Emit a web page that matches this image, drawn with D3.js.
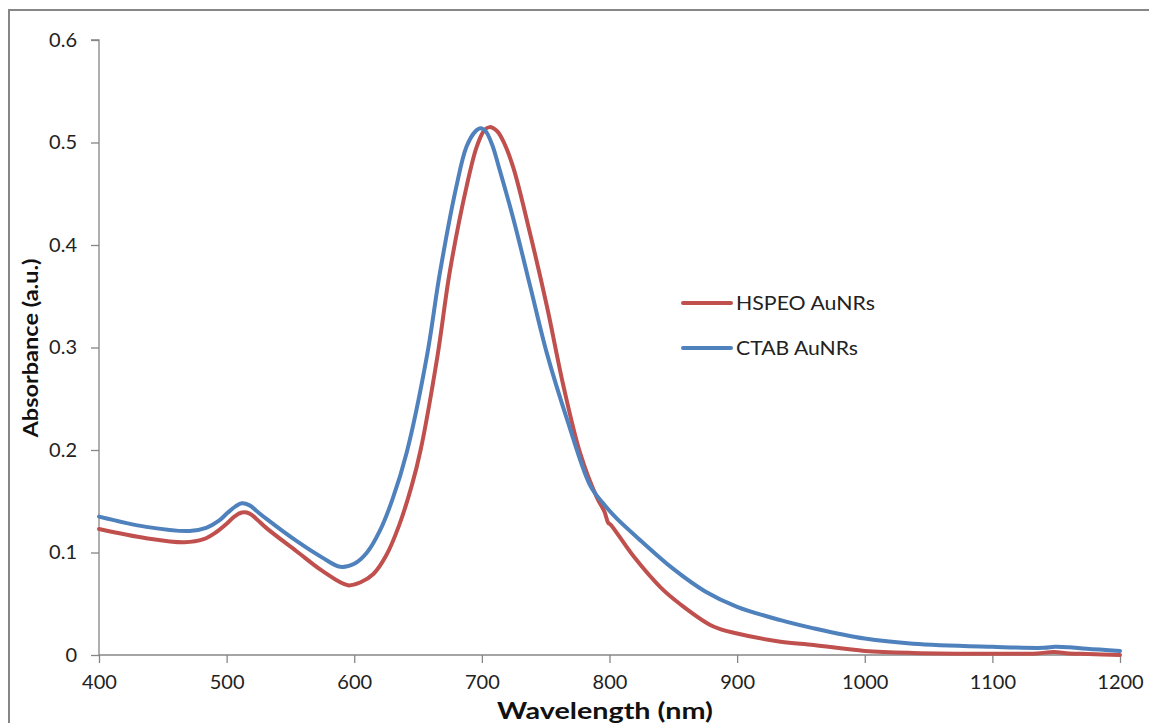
<!DOCTYPE html>
<html>
<head>
<meta charset="utf-8">
<script src="https://cdn.jsdelivr.net/npm/d3@7"></script>
<style>
  html, body { margin: 0; padding: 0; background: #fff; }
  svg { display: block; }
</style>
</head>
<body>
<svg id="chart" width="1149" height="723"></svg>
<script>
// ---- Data ----
const hspeoWavelength = [400, 437, 467, 482, 492, 500, 506, 512, 518, 524, 531, 555, 575, 595, 605, 615, 625, 635, 645, 652, 665, 675, 688, 696, 702, 706, 712, 718, 725, 738, 751, 764, 777, 790, 796, 799, 801, 819, 840, 855, 881, 900, 934, 960, 1000, 1038, 1100, 1135, 1148, 1160, 1175, 1200];
const hspeoAbs =        [0.123, 0.114, 0.110, 0.113, 0.120, 0.128, 0.135, 0.139, 0.138, 0.132, 0.124, 0.101, 0.082, 0.068, 0.071, 0.079, 0.097, 0.126, 0.165, 0.200, 0.290, 0.375, 0.457, 0.496, 0.512, 0.515, 0.511, 0.498, 0.474, 0.410, 0.340, 0.262, 0.197, 0.154, 0.140, 0.129, 0.127, 0.096, 0.066, 0.050, 0.028, 0.021, 0.013, 0.0098, 0.004, 0.002, 0.0012, 0.0015, 0.003, 0.0015, 0.001, 0.000];

const ctabWavelength = [400, 437, 471, 484, 494, 501, 507, 512, 518, 524, 531, 555, 575, 589, 600, 610, 620, 630, 641, 657, 667, 680, 688, 695, 699, 703, 708, 714, 725, 738, 751, 767, 785, 795, 805, 825, 850, 875, 900, 934, 960, 1000, 1038, 1100, 1140, 1149, 1160, 1174, 1200];
const ctabAbs =        [0.135, 0.125, 0.121, 0.124, 0.131, 0.139, 0.145, 0.148, 0.146, 0.140, 0.133, 0.111, 0.095, 0.086, 0.089, 0.100, 0.121, 0.152, 0.197, 0.292, 0.372, 0.457, 0.496, 0.511, 0.514, 0.511, 0.498, 0.473, 0.424, 0.359, 0.294, 0.229, 0.165, 0.148, 0.134, 0.111, 0.084, 0.062, 0.047, 0.034, 0.026, 0.016, 0.011, 0.008, 0.007, 0.008, 0.0075, 0.006, 0.004];

const xTicks = [400, 500, 600, 700, 800, 900, 1000, 1100, 1200];
const yTicks = [0, 0.1, 0.2, 0.3, 0.4, 0.5, 0.6];
const seriesNames = ["HSPEO AuNRs", "CTAB AuNRs"];
const seriesColors = ["#C0504D", "#4F81BD"];

// ---- Layout ----
const svg = d3.select("#chart");
const FONT = "Lato, 'Open Sans', 'Liberation Sans', sans-serif";
const axisColor = "#868686";

// outer frame (extends past the right/bottom edge like the reference)
svg.append("rect")
  .attr("x", 9).attr("y", 10)
  .attr("width", 1160).attr("height", 730)
  .attr("fill", "none").attr("stroke", axisColor).attr("stroke-width", 2);

const x = d3.scaleLinear().domain([400, 1200]).range([99, 1120]);
const y = d3.scaleLinear().domain([0, 0.6]).range([655, 40]);

// y axis
const yAxis = d3.axisLeft(y).tickValues(yTicks).tickSize(8).tickPadding(14)
  .tickFormat(d => d === 0 ? "0" : d3.format(".1f")(d));
const gy = svg.append("g").attr("transform", "translate(99,0)").call(yAxis);
gy.select(".domain").attr("stroke", axisColor).attr("stroke-width", 1.3)
  .attr("d", `M-8,${y(0.6)}H0V${y(0)}`);
gy.selectAll(".tick line").attr("stroke", axisColor).attr("stroke-width", 1.3);
gy.selectAll(".tick text").attr("font-family", FONT).attr("font-size", 20).attr("fill", "#222");

// x axis
const xAxis = d3.axisBottom(x).tickValues(xTicks).tickSize(8).tickPadding(12)
  .tickFormat(d3.format("d"));
const gx = svg.append("g").attr("transform", "translate(0,655)").call(xAxis);
gx.select(".domain").attr("stroke", axisColor).attr("stroke-width", 1.3)
  .attr("d", `M${x(400)},0H${x(1200)}`);
gx.selectAll(".tick line").attr("stroke", axisColor).attr("stroke-width", 1.3);
gx.selectAll(".tick text").attr("font-family", FONT).attr("font-size", 20).attr("fill", "#222");

// axis titles
svg.append("text")
  .attr("x", 605).attr("y", 719)
  .attr("text-anchor", "middle")
  .attr("font-family", FONT).attr("font-weight", "bold").attr("font-size", 22)
  .attr("textLength", 216).attr("lengthAdjust", "spacingAndGlyphs")
  .attr("fill", "#111")
  .text("Wavelength (nm)");

svg.append("text")
  .attr("transform", "translate(38,348) rotate(-90)")
  .attr("text-anchor", "middle")
  .attr("font-family", FONT).attr("font-weight", "bold").attr("font-size", 21)
  .attr("textLength", 179).attr("lengthAdjust", "spacingAndGlyphs")
  .attr("fill", "#111")
  .text("Absorbance (a.u.)");

// lines
const line = d3.line()
  .x(d => x(d[0])).y(d => y(d[1]))
  .curve(d3.curveCatmullRom.alpha(0.5));

const series = [
  d3.zip(hspeoWavelength, hspeoAbs),
  d3.zip(ctabWavelength, ctabAbs)
];

series.forEach((s, i) => {
  svg.append("path")
    .datum(s)
    .attr("fill", "none")
    .attr("stroke", seriesColors[i])
    .attr("stroke-width", 4)
    .attr("stroke-linejoin", "round")
    .attr("stroke-linecap", "round")
    .attr("d", line);
});

// legend
const legendWidths = [139, 122];
const legend = svg.append("g");
seriesNames.forEach((name, i) => {
  const ly = 303 + i * 45;
  legend.append("line")
    .attr("x1", 683).attr("x2", 731)
    .attr("y1", ly).attr("y2", ly)
    .attr("stroke", seriesColors[i]).attr("stroke-width", 4)
    .attr("stroke-linecap", "round");
  legend.append("text")
    .attr("x", 736).attr("y", ly + 7)
    .attr("font-family", FONT).attr("font-size", 20).attr("fill", "#222")
    .attr("textLength", legendWidths[i]).attr("lengthAdjust", "spacingAndGlyphs")
    .text(name);
});
</script>
</body>
</html>
